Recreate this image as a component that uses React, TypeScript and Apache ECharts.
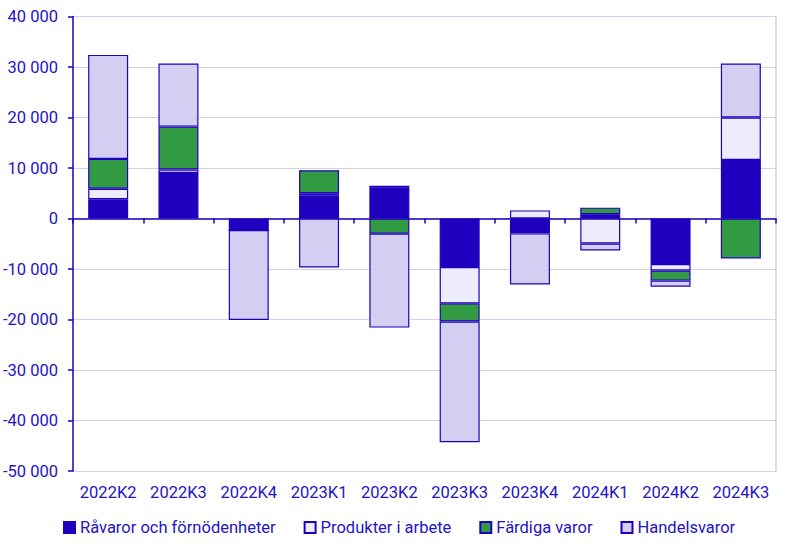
import React, { useEffect, useRef } from "react";
import * as echarts from "echarts";

const categories = ["2022K2", "2022K3", "2022K4", "2023K1", "2023K2", "2023K3", "2023K4", "2024K1", "2024K2", "2024K3"];
const ravaror = [3800, 9000, -2300, 4500, 6200, -9600, -2650, 850, -9000, 11600];
const produkter = [2100, 700, 0, 500, 300, -7200, 1600, -4950, -1300, 8400];
const fardiga = [5900, 8500, 0, 4550, -3000, -3600, -300, 1300, -2000, -7900];
const handel = [20600, 12500, -17800, -9700, -18600, -23900, -10100, -1400, -1200, 10700];
const seriesNames = ["Råvaror och förnödenheter", "Produkter i arbete", "Färdiga varor", "Handelsvaror"];

const BLUE = "#1e00be";
const TEXT = "#2414c4";
const GRID = "#d4d0ee";
const colors = ["#1e00be", "#edecfd", "#339a44", "#d3cef2"];

function fmt(v: number): string {
  const s = String(Math.abs(v)).replace(/\B(?=(\d{3})+(?!\d))/g, " ");
  return (v < 0 ? "-" : "") + s;
}

export default function App() {
  const ref = useRef<HTMLDivElement>(null);
  useEffect(() => {
    if (!ref.current) return;
    const chart = echarts.init(ref.current, null, { renderer: "svg" });
    const datasets = [ravaror, produkter, fardiga, handel];
    chart.setOption({
      animation: false,
      textStyle: { fontFamily: "Roboto" },
      grid: { left: 73, right: 14, top: 16.5, bottom: 80, containLabel: false },
      legend: {
        bottom: 10,
        left: 58,
        itemWidth: 11,
        itemHeight: 11,
        itemGap: 28,
        icon: "rect",
        textStyle: { color: TEXT, fontSize: 16.5, fontFamily: "Roboto" },
        data: seriesNames,
      },
      xAxis: [
        {
          type: "category",
          data: categories,
          position: "bottom",
          axisLine: { show: false, onZero: false },
          axisTick: { show: false },
          axisLabel: { color: TEXT, fontSize: 16.5, margin: 13, interval: 0, fontFamily: "Roboto" },
          splitLine: { show: false },
        },
        {
          type: "category",
          data: categories,
          position: "bottom",
          axisLine: { show: true, onZero: true, onZeroAxisIndex: 0, lineStyle: { color: BLUE, width: 1.5 } },
          axisTick: { show: true, length: 5, interval: 0, lineStyle: { color: BLUE, width: 1.5 } },
          axisLabel: { show: false },
          splitLine: { show: false },
        },
      ],
      yAxis: [
        {
          type: "value",
          min: -50000,
          max: 40000,
          interval: 10000,
          axisLine: { show: true, lineStyle: { color: BLUE, width: 1.5 } },
          axisTick: { show: true, length: 5, lineStyle: { color: BLUE, width: 1.5 } },
          axisLabel: { color: TEXT, fontSize: 16.5, margin: 15, formatter: (v: number) => fmt(v), fontFamily: "Roboto" },
          splitLine: { show: true, lineStyle: { color: GRID, width: 1 } },
        },
        {
          type: "value",
          position: "right",
          min: -50000,
          max: 40000,
          interval: 10000,
          axisLine: { show: true, lineStyle: { color: GRID, width: 1.5 } },
          axisTick: { show: false },
          axisLabel: { show: false },
          splitLine: { show: false },
        },
      ],
      series: datasets.map((d, i) => ({
        name: seriesNames[i],
        type: "bar",
        stack: "total",
        xAxisIndex: 0,
        yAxisIndex: 0,
        barWidth: 40,
        data: d,
        itemStyle: { color: colors[i], borderColor: BLUE, borderWidth: 1.2 },
      })),
    });
    return () => chart.dispose();
  }, []);
  return <div ref={ref} style={{ width: 790, height: 551, position: "absolute", left: 0, top: 0 }} />;
}
